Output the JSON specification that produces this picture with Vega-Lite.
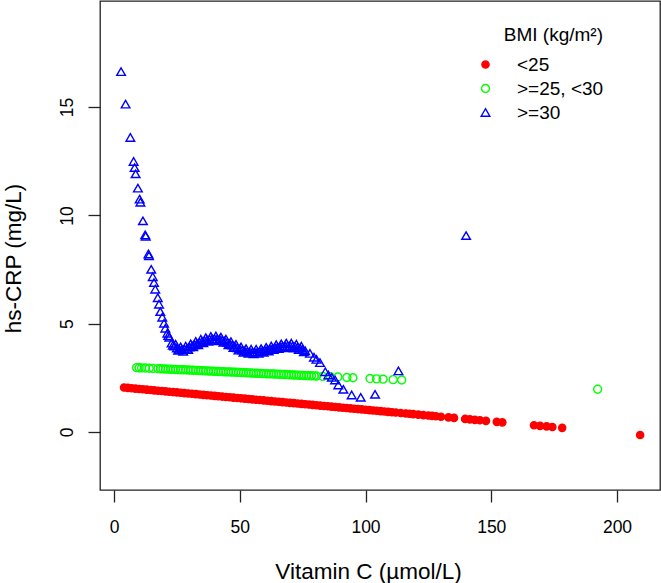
{
  "$schema": "https://vega.github.io/schema/vega-lite/v6.json",
  "width": 560,
  "height": 489,
  "autosize": {"type": "none"},
  "padding": {"left": 100, "top": 1, "right": 1, "bottom": 93},
  "background": "white",
  "config": {
    "font": "Liberation Sans",
    "view": {"stroke": "#222", "strokeWidth": 1.3}
  },
  "data": {
    "values": [
      {"bmi": "<25", "vitc": 4, "crp": 2.050}, {"bmi": "<25", "vitc": 5.5, "crp": 2.034}, {"bmi": "<25", "vitc": 7, "crp": 2.018},
      {"bmi": "<25", "vitc": 8.5, "crp": 2.002}, {"bmi": "<25", "vitc": 10, "crp": 1.986}, {"bmi": "<25", "vitc": 11.5, "crp": 1.970},
      {"bmi": "<25", "vitc": 13, "crp": 1.954}, {"bmi": "<25", "vitc": 14.5, "crp": 1.938}, {"bmi": "<25", "vitc": 16, "crp": 1.922},
      {"bmi": "<25", "vitc": 17.5, "crp": 1.906}, {"bmi": "<25", "vitc": 19, "crp": 1.890}, {"bmi": "<25", "vitc": 20.5, "crp": 1.874},
      {"bmi": "<25", "vitc": 22, "crp": 1.858}, {"bmi": "<25", "vitc": 23.5, "crp": 1.842}, {"bmi": "<25", "vitc": 25, "crp": 1.826},
      {"bmi": "<25", "vitc": 26.5, "crp": 1.810}, {"bmi": "<25", "vitc": 28, "crp": 1.794}, {"bmi": "<25", "vitc": 29.5, "crp": 1.778},
      {"bmi": "<25", "vitc": 31, "crp": 1.762}, {"bmi": "<25", "vitc": 32.5, "crp": 1.746}, {"bmi": "<25", "vitc": 34, "crp": 1.730},
      {"bmi": "<25", "vitc": 35.5, "crp": 1.714}, {"bmi": "<25", "vitc": 37, "crp": 1.698}, {"bmi": "<25", "vitc": 38.5, "crp": 1.682},
      {"bmi": "<25", "vitc": 40, "crp": 1.666}, {"bmi": "<25", "vitc": 41.5, "crp": 1.650}, {"bmi": "<25", "vitc": 43, "crp": 1.634},
      {"bmi": "<25", "vitc": 44.5, "crp": 1.617}, {"bmi": "<25", "vitc": 46, "crp": 1.601}, {"bmi": "<25", "vitc": 47.5, "crp": 1.585},
      {"bmi": "<25", "vitc": 49, "crp": 1.569}, {"bmi": "<25", "vitc": 50.5, "crp": 1.553}, {"bmi": "<25", "vitc": 52, "crp": 1.537},
      {"bmi": "<25", "vitc": 53.5, "crp": 1.521}, {"bmi": "<25", "vitc": 55, "crp": 1.505}, {"bmi": "<25", "vitc": 56.5, "crp": 1.489},
      {"bmi": "<25", "vitc": 58, "crp": 1.473}, {"bmi": "<25", "vitc": 59.5, "crp": 1.457}, {"bmi": "<25", "vitc": 61, "crp": 1.441},
      {"bmi": "<25", "vitc": 62.5, "crp": 1.425}, {"bmi": "<25", "vitc": 64, "crp": 1.409}, {"bmi": "<25", "vitc": 65.5, "crp": 1.393},
      {"bmi": "<25", "vitc": 67, "crp": 1.377}, {"bmi": "<25", "vitc": 68.5, "crp": 1.361}, {"bmi": "<25", "vitc": 70, "crp": 1.345},
      {"bmi": "<25", "vitc": 71.5, "crp": 1.329}, {"bmi": "<25", "vitc": 73, "crp": 1.313}, {"bmi": "<25", "vitc": 74.5, "crp": 1.297},
      {"bmi": "<25", "vitc": 76, "crp": 1.281}, {"bmi": "<25", "vitc": 77.5, "crp": 1.265}, {"bmi": "<25", "vitc": 79, "crp": 1.249},
      {"bmi": "<25", "vitc": 80.5, "crp": 1.233}, {"bmi": "<25", "vitc": 82, "crp": 1.217}, {"bmi": "<25", "vitc": 83.5, "crp": 1.201},
      {"bmi": "<25", "vitc": 85, "crp": 1.185}, {"bmi": "<25", "vitc": 86.5, "crp": 1.169}, {"bmi": "<25", "vitc": 88, "crp": 1.153},
      {"bmi": "<25", "vitc": 89.5, "crp": 1.137}, {"bmi": "<25", "vitc": 91, "crp": 1.121}, {"bmi": "<25", "vitc": 92.5, "crp": 1.105},
      {"bmi": "<25", "vitc": 94, "crp": 1.089}, {"bmi": "<25", "vitc": 95.5, "crp": 1.073}, {"bmi": "<25", "vitc": 97, "crp": 1.057},
      {"bmi": "<25", "vitc": 98.5, "crp": 1.041}, {"bmi": "<25", "vitc": 100, "crp": 1.025}, {"bmi": "<25", "vitc": 101.5, "crp": 1.009},
      {"bmi": "<25", "vitc": 103, "crp": 0.993}, {"bmi": "<25", "vitc": 104.5, "crp": 0.977}, {"bmi": "<25", "vitc": 106, "crp": 0.961},
      {"bmi": "<25", "vitc": 107.5, "crp": 0.945}, {"bmi": "<25", "vitc": 109, "crp": 0.929}, {"bmi": "<25", "vitc": 110.5, "crp": 0.913},
      {"bmi": "<25", "vitc": 112, "crp": 0.897}, {"bmi": "<25", "vitc": 114, "crp": 0.875}, {"bmi": "<25", "vitc": 116, "crp": 0.854},
      {"bmi": "<25", "vitc": 117.5, "crp": 0.838}, {"bmi": "<25", "vitc": 119, "crp": 0.822}, {"bmi": "<25", "vitc": 121, "crp": 0.800},
      {"bmi": "<25", "vitc": 123, "crp": 0.779}, {"bmi": "<25", "vitc": 125, "crp": 0.758}, {"bmi": "<25", "vitc": 126.5, "crp": 0.742},
      {"bmi": "<25", "vitc": 128, "crp": 0.726}, {"bmi": "<25", "vitc": 130, "crp": 0.704}, {"bmi": "<25", "vitc": 133, "crp": 0.672},
      {"bmi": "<25", "vitc": 135.2, "crp": 0.649}, {"bmi": "<25", "vitc": 139.6, "crp": 0.602}, {"bmi": "<25", "vitc": 141.5, "crp": 0.582},
      {"bmi": "<25", "vitc": 143.5, "crp": 0.560}, {"bmi": "<25", "vitc": 145.5, "crp": 0.539}, {"bmi": "<25", "vitc": 147.9, "crp": 0.513},
      {"bmi": "<25", "vitc": 152.2, "crp": 0.467}, {"bmi": "<25", "vitc": 154.4, "crp": 0.444}, {"bmi": "<25", "vitc": 167, "crp": 0.309},
      {"bmi": "<25", "vitc": 169.4, "crp": 0.283}, {"bmi": "<25", "vitc": 172, "crp": 0.256}, {"bmi": "<25", "vitc": 174.3, "crp": 0.231},
      {"bmi": "<25", "vitc": 178.2, "crp": 0.190}, {"bmi": "<25", "vitc": 209.2, "crp": -0.141},

      {"bmi": ">=25, <30", "vitc": 9, "crp": 2.970}, {"bmi": ">=25, <30", "vitc": 10, "crp": 2.965}, {"bmi": ">=25, <30", "vitc": 11, "crp": 2.959},
      {"bmi": ">=25, <30", "vitc": 12.5, "crp": 2.951}, {"bmi": ">=25, <30", "vitc": 14, "crp": 2.943}, {"bmi": ">=25, <30", "vitc": 15.5, "crp": 2.935},
      {"bmi": ">=25, <30", "vitc": 17.5, "crp": 2.924}, {"bmi": ">=25, <30", "vitc": 18.5, "crp": 2.918}, {"bmi": ">=25, <30", "vitc": 19.5, "crp": 2.913},
      {"bmi": ">=25, <30", "vitc": 20.5, "crp": 2.908}, {"bmi": ">=25, <30", "vitc": 21.5, "crp": 2.902}, {"bmi": ">=25, <30", "vitc": 22.5, "crp": 2.897},
      {"bmi": ">=25, <30", "vitc": 23.5, "crp": 2.891}, {"bmi": ">=25, <30", "vitc": 24.5, "crp": 2.886}, {"bmi": ">=25, <30", "vitc": 25.5, "crp": 2.880},
      {"bmi": ">=25, <30", "vitc": 26.5, "crp": 2.875}, {"bmi": ">=25, <30", "vitc": 27.5, "crp": 2.870}, {"bmi": ">=25, <30", "vitc": 28.5, "crp": 2.864},
      {"bmi": ">=25, <30", "vitc": 29.5, "crp": 2.859}, {"bmi": ">=25, <30", "vitc": 30.5, "crp": 2.853}, {"bmi": ">=25, <30", "vitc": 31.5, "crp": 2.848},
      {"bmi": ">=25, <30", "vitc": 32.5, "crp": 2.842}, {"bmi": ">=25, <30", "vitc": 33.5, "crp": 2.837}, {"bmi": ">=25, <30", "vitc": 34.5, "crp": 2.832},
      {"bmi": ">=25, <30", "vitc": 35.5, "crp": 2.826}, {"bmi": ">=25, <30", "vitc": 36.5, "crp": 2.821}, {"bmi": ">=25, <30", "vitc": 37.5, "crp": 2.815},
      {"bmi": ">=25, <30", "vitc": 38.5, "crp": 2.810}, {"bmi": ">=25, <30", "vitc": 39.5, "crp": 2.804}, {"bmi": ">=25, <30", "vitc": 40.5, "crp": 2.799},
      {"bmi": ">=25, <30", "vitc": 41.5, "crp": 2.794}, {"bmi": ">=25, <30", "vitc": 42.5, "crp": 2.788}, {"bmi": ">=25, <30", "vitc": 43.5, "crp": 2.783},
      {"bmi": ">=25, <30", "vitc": 44.5, "crp": 2.777}, {"bmi": ">=25, <30", "vitc": 45.5, "crp": 2.772}, {"bmi": ">=25, <30", "vitc": 46.5, "crp": 2.766},
      {"bmi": ">=25, <30", "vitc": 47.5, "crp": 2.761}, {"bmi": ">=25, <30", "vitc": 48.5, "crp": 2.756}, {"bmi": ">=25, <30", "vitc": 49.5, "crp": 2.750},
      {"bmi": ">=25, <30", "vitc": 50.5, "crp": 2.745}, {"bmi": ">=25, <30", "vitc": 51.5, "crp": 2.739}, {"bmi": ">=25, <30", "vitc": 52.5, "crp": 2.734},
      {"bmi": ">=25, <30", "vitc": 53.5, "crp": 2.728}, {"bmi": ">=25, <30", "vitc": 54.5, "crp": 2.723}, {"bmi": ">=25, <30", "vitc": 55.5, "crp": 2.718},
      {"bmi": ">=25, <30", "vitc": 56.5, "crp": 2.712}, {"bmi": ">=25, <30", "vitc": 57.5, "crp": 2.707}, {"bmi": ">=25, <30", "vitc": 58.5, "crp": 2.701},
      {"bmi": ">=25, <30", "vitc": 59.5, "crp": 2.696}, {"bmi": ">=25, <30", "vitc": 60.5, "crp": 2.690}, {"bmi": ">=25, <30", "vitc": 61.5, "crp": 2.685},
      {"bmi": ">=25, <30", "vitc": 62.5, "crp": 2.680}, {"bmi": ">=25, <30", "vitc": 63.5, "crp": 2.674}, {"bmi": ">=25, <30", "vitc": 64.5, "crp": 2.669},
      {"bmi": ">=25, <30", "vitc": 65.5, "crp": 2.663}, {"bmi": ">=25, <30", "vitc": 66.5, "crp": 2.658}, {"bmi": ">=25, <30", "vitc": 67.5, "crp": 2.652},
      {"bmi": ">=25, <30", "vitc": 68.5, "crp": 2.647}, {"bmi": ">=25, <30", "vitc": 69.5, "crp": 2.642}, {"bmi": ">=25, <30", "vitc": 70.5, "crp": 2.636},
      {"bmi": ">=25, <30", "vitc": 71.5, "crp": 2.631}, {"bmi": ">=25, <30", "vitc": 72.5, "crp": 2.625}, {"bmi": ">=25, <30", "vitc": 73.5, "crp": 2.620},
      {"bmi": ">=25, <30", "vitc": 74.5, "crp": 2.614}, {"bmi": ">=25, <30", "vitc": 75.5, "crp": 2.609}, {"bmi": ">=25, <30", "vitc": 76.5, "crp": 2.604},
      {"bmi": ">=25, <30", "vitc": 77.5, "crp": 2.598}, {"bmi": ">=25, <30", "vitc": 78.5, "crp": 2.593}, {"bmi": ">=25, <30", "vitc": 79.5, "crp": 2.587},
      {"bmi": ">=25, <30", "vitc": 80.5, "crp": 2.582}, {"bmi": ">=25, <30", "vitc": 83, "crp": 2.568}, {"bmi": ">=25, <30", "vitc": 86, "crp": 2.552},
      {"bmi": ">=25, <30", "vitc": 89, "crp": 2.536}, {"bmi": ">=25, <30", "vitc": 92.6, "crp": 2.516}, {"bmi": ">=25, <30", "vitc": 95, "crp": 2.503},
      {"bmi": ">=25, <30", "vitc": 101.8, "crp": 2.466}, {"bmi": ">=25, <30", "vitc": 104.4, "crp": 2.452}, {"bmi": ">=25, <30", "vitc": 107, "crp": 2.438},
      {"bmi": ">=25, <30", "vitc": 111, "crp": 2.416}, {"bmi": ">=25, <30", "vitc": 114.4, "crp": 2.398}, {"bmi": ">=25, <30", "vitc": 192.3, "crp": 1.975},

      {"bmi": ">=30", "vitc": 2.8, "crp": 16.64}, {"bmi": ">=30", "vitc": 4.6, "crp": 15.14}, {"bmi": ">=30", "vitc": 6.5, "crp": 13.6},
      {"bmi": ">=30", "vitc": 7.8, "crp": 12.49}, {"bmi": ">=30", "vitc": 8.2, "crp": 12.21}, {"bmi": ">=30", "vitc": 8.6, "crp": 11.92},
      {"bmi": ">=30", "vitc": 9.5, "crp": 11.26}, {"bmi": ">=30", "vitc": 10.2, "crp": 10.75}, {"bmi": ">=30", "vitc": 10.5, "crp": 10.61},
      {"bmi": ">=30", "vitc": 11.5, "crp": 9.75}, {"bmi": ">=30", "vitc": 12.4, "crp": 9.1}, {"bmi": ">=30", "vitc": 12.6, "crp": 9.04},
      {"bmi": ">=30", "vitc": 13.7, "crp": 8.22}, {"bmi": ">=30", "vitc": 13.9, "crp": 8.14}, {"bmi": ">=30", "vitc": 14.8, "crp": 7.51},
      {"bmi": ">=30", "vitc": 15.4, "crp": 7.17}, {"bmi": ">=30", "vitc": 15.9, "crp": 6.9}, {"bmi": ">=30", "vitc": 16.4, "crp": 6.59},
      {"bmi": ">=30", "vitc": 17.4, "crp": 6.2}, {"bmi": ">=30", "vitc": 17.9, "crp": 5.9}, {"bmi": ">=30", "vitc": 18.4, "crp": 5.56},
      {"bmi": ">=30", "vitc": 19.2, "crp": 5.3}, {"bmi": ">=30", "vitc": 19.9, "crp": 5.02}, {"bmi": ">=30", "vitc": 20.4, "crp": 4.79},
      {"bmi": ">=30", "vitc": 21.2, "crp": 4.56}, {"bmi": ">=30", "vitc": 21.6, "crp": 4.45}, {"bmi": ">=30", "vitc": 22, "crp": 4.37},
      {"bmi": ">=30", "vitc": 22.9, "crp": 4.1}, {"bmi": ">=30", "vitc": 23.4, "crp": 4.0},
      {"bmi": ">=30", "vitc": 24, "crp": 3.97}, {"bmi": ">=30", "vitc": 25, "crp": 3.88},
      {"bmi": ">=30", "vitc": 26, "crp": 3.82}, {"bmi": ">=30", "vitc": 27, "crp": 3.8}, {"bmi": ">=30", "vitc": 28, "crp": 3.82},
      {"bmi": ">=30", "vitc": 29, "crp": 3.86}, {"bmi": ">=30", "vitc": 30, "crp": 3.92}, {"bmi": ">=30", "vitc": 31, "crp": 3.98},
      {"bmi": ">=30", "vitc": 32, "crp": 4.03}, {"bmi": ">=30", "vitc": 33, "crp": 4.08}, {"bmi": ">=30", "vitc": 34, "crp": 4.13},
      {"bmi": ">=30", "vitc": 35, "crp": 4.18}, {"bmi": ">=30", "vitc": 36, "crp": 4.22}, {"bmi": ">=30", "vitc": 37, "crp": 4.25},
      {"bmi": ">=30", "vitc": 38, "crp": 4.28}, {"bmi": ">=30", "vitc": 39, "crp": 4.3}, {"bmi": ">=30", "vitc": 40, "crp": 4.31},
      {"bmi": ">=30", "vitc": 41, "crp": 4.3}, {"bmi": ">=30", "vitc": 42, "crp": 4.28}, {"bmi": ">=30", "vitc": 43, "crp": 4.24},
      {"bmi": ">=30", "vitc": 44, "crp": 4.2}, {"bmi": ">=30", "vitc": 45, "crp": 4.14}, {"bmi": ">=30", "vitc": 46, "crp": 4.08},
      {"bmi": ">=30", "vitc": 47, "crp": 4.01}, {"bmi": ">=30", "vitc": 48, "crp": 3.95}, {"bmi": ">=30", "vitc": 49, "crp": 3.89},
      {"bmi": ">=30", "vitc": 50, "crp": 3.83}, {"bmi": ">=30", "vitc": 51, "crp": 3.78}, {"bmi": ">=30", "vitc": 52, "crp": 3.74},
      {"bmi": ">=30", "vitc": 53, "crp": 3.71}, {"bmi": ">=30", "vitc": 54, "crp": 3.7}, {"bmi": ">=30", "vitc": 55, "crp": 3.69},
      {"bmi": ">=30", "vitc": 56, "crp": 3.69}, {"bmi": ">=30", "vitc": 57, "crp": 3.7}, {"bmi": ">=30", "vitc": 58, "crp": 3.72},
      {"bmi": ">=30", "vitc": 59, "crp": 3.74}, {"bmi": ">=30", "vitc": 60, "crp": 3.77}, {"bmi": ">=30", "vitc": 61, "crp": 3.8},
      {"bmi": ">=30", "vitc": 62, "crp": 3.83}, {"bmi": ">=30", "vitc": 63, "crp": 3.86}, {"bmi": ">=30", "vitc": 64, "crp": 3.89},
      {"bmi": ">=30", "vitc": 65, "crp": 3.92}, {"bmi": ">=30", "vitc": 66, "crp": 3.94}, {"bmi": ">=30", "vitc": 67, "crp": 3.96},
      {"bmi": ">=30", "vitc": 68, "crp": 3.97}, {"bmi": ">=30", "vitc": 69, "crp": 3.98}, {"bmi": ">=30", "vitc": 70, "crp": 3.98},
      {"bmi": ">=30", "vitc": 71, "crp": 3.97}, {"bmi": ">=30", "vitc": 72, "crp": 3.95}, {"bmi": ">=30", "vitc": 73, "crp": 3.91},
      {"bmi": ">=30", "vitc": 74, "crp": 3.87}, {"bmi": ">=30", "vitc": 75, "crp": 3.81}, {"bmi": ">=30", "vitc": 76, "crp": 3.75},
      {"bmi": ">=30", "vitc": 24.5, "crp": 4.05}, {"bmi": ">=30", "vitc": 25.5, "crp": 3.77}, {"bmi": ">=30", "vitc": 26.5, "crp": 3.93},
      {"bmi": ">=30", "vitc": 27.5, "crp": 3.73}, {"bmi": ">=30", "vitc": 28.5, "crp": 3.96}, {"bmi": ">=30", "vitc": 29.5, "crp": 3.81},
      {"bmi": ">=30", "vitc": 30.5, "crp": 4.07}, {"bmi": ">=30", "vitc": 31.5, "crp": 3.93}, {"bmi": ">=30", "vitc": 32.5, "crp": 4.18},
      {"bmi": ">=30", "vitc": 33.5, "crp": 4.03}, {"bmi": ">=30", "vitc": 34.5, "crp": 4.28}, {"bmi": ">=30", "vitc": 35.5, "crp": 4.12},
      {"bmi": ">=30", "vitc": 36.5, "crp": 4.36}, {"bmi": ">=30", "vitc": 37.5, "crp": 4.19}, {"bmi": ">=30", "vitc": 38.5, "crp": 4.41},
      {"bmi": ">=30", "vitc": 39.5, "crp": 4.23}, {"bmi": ">=30", "vitc": 40.5, "crp": 4.43}, {"bmi": ">=30", "vitc": 41.5, "crp": 4.21},
      {"bmi": ">=30", "vitc": 42.5, "crp": 4.38}, {"bmi": ">=30", "vitc": 43.5, "crp": 4.14}, {"bmi": ">=30", "vitc": 44.5, "crp": 4.29},
      {"bmi": ">=30", "vitc": 45.5, "crp": 4.03}, {"bmi": ">=30", "vitc": 46.5, "crp": 4.17}, {"bmi": ">=30", "vitc": 47.5, "crp": 3.90},
      {"bmi": ">=30", "vitc": 48.5, "crp": 4.04}, {"bmi": ">=30", "vitc": 49.5, "crp": 3.78}, {"bmi": ">=30", "vitc": 50.5, "crp": 3.93},
      {"bmi": ">=30", "vitc": 51.5, "crp": 3.68}, {"bmi": ">=30", "vitc": 52.5, "crp": 3.85}, {"bmi": ">=30", "vitc": 53.5, "crp": 3.63},
      {"bmi": ">=30", "vitc": 54.5, "crp": 3.82}, {"bmi": ">=30", "vitc": 55.5, "crp": 3.61}, {"bmi": ">=30", "vitc": 56.5, "crp": 3.82},
      {"bmi": ">=30", "vitc": 57.5, "crp": 3.63}, {"bmi": ">=30", "vitc": 58.5, "crp": 3.85}, {"bmi": ">=30", "vitc": 59.5, "crp": 3.68},
      {"bmi": ">=30", "vitc": 60.5, "crp": 3.91}, {"bmi": ">=30", "vitc": 61.5, "crp": 3.74}, {"bmi": ">=30", "vitc": 62.5, "crp": 3.97},
      {"bmi": ">=30", "vitc": 63.5, "crp": 3.80}, {"bmi": ">=30", "vitc": 64.5, "crp": 4.03}, {"bmi": ">=30", "vitc": 65.5, "crp": 3.85},
      {"bmi": ">=30", "vitc": 66.5, "crp": 4.07}, {"bmi": ">=30", "vitc": 67.5, "crp": 3.89}, {"bmi": ">=30", "vitc": 68.5, "crp": 4.10},
      {"bmi": ">=30", "vitc": 69.5, "crp": 3.90}, {"bmi": ">=30", "vitc": 70.5, "crp": 4.10}, {"bmi": ">=30", "vitc": 71.5, "crp": 3.88},
      {"bmi": ">=30", "vitc": 72.5, "crp": 4.05}, {"bmi": ">=30", "vitc": 73.5, "crp": 3.81}, {"bmi": ">=30", "vitc": 74.5, "crp": 3.96},
      {"bmi": ">=30", "vitc": 75.5, "crp": 3.70},
      {"bmi": ">=30", "vitc": 77.9, "crp": 3.63}, {"bmi": ">=30", "vitc": 79.5, "crp": 3.45}, {"bmi": ">=30", "vitc": 80.5, "crp": 3.35},
      {"bmi": ">=30", "vitc": 81.9, "crp": 3.2}, {"bmi": ">=30", "vitc": 84, "crp": 2.78}, {"bmi": ">=30", "vitc": 85.2, "crp": 2.63},
      {"bmi": ">=30", "vitc": 86.6, "crp": 2.52}, {"bmi": ">=30", "vitc": 87.9, "crp": 2.4}, {"bmi": ">=30", "vitc": 89.2, "crp": 2.17},
      {"bmi": ">=30", "vitc": 91.2, "crp": 1.97}, {"bmi": ">=30", "vitc": 94.5, "crp": 1.71}, {"bmi": ">=30", "vitc": 98.1, "crp": 1.6},
      {"bmi": ">=30", "vitc": 103.8, "crp": 1.74}, {"bmi": ">=30", "vitc": 113.1, "crp": 2.82}, {"bmi": ">=30", "vitc": 140, "crp": 9.07}
    ]
  },
  "mark": {"type": "point", "strokeWidth": 1.4, "opacity": 1},
  "encoding": {
    "x": {
      "field": "vitc",
      "type": "quantitative",
      "scale": {"domain": [-5.57, 217.1], "nice": false, "zero": false},
      "axis": {
        "values": [0, 50, 100, 150, 200],
        "grid": false,
        "domain": false,
        "tickSize": 12,
        "tickColor": "#222",
        "tickWidth": 1.3,
        "labelFontSize": 17.5,
        "labelColor": "black",
        "labelPadding": 16,
        "title": "Vitamin C (µmol/L)",
        "titleFontSize": 22.5,
        "titleFontWeight": "normal",
        "titleColor": "black",
        "titleX": 268,
        "titleY": 88,
        "titleBaseline": "alphabetic"
      }
    },
    "y": {
      "field": "crp",
      "type": "quantitative",
      "scale": {"domain": [-2.68, 19.9], "nice": false, "zero": false},
      "axis": {
        "values": [0, 5, 10, 15],
        "grid": false,
        "domain": false,
        "tickSize": 12,
        "tickColor": "#222",
        "tickWidth": 1.3,
        "labelFontSize": 17.5,
        "labelColor": "black",
        "labelAngle": -90,
        "labelAlign": "center",
        "labelBaseline": "alphabetic",
        "labelPadding": 16,
        "title": "hs-CRP (mg/L)",
        "titleFontSize": 22.5,
        "titleFontWeight": "normal",
        "titleColor": "black",
        "titleAngle": -90,
        "titleX": -80,
        "titleY": 257,
        "titleAlign": "center",
        "titleBaseline": "alphabetic"
      }
    },
    "shape": {
      "field": "bmi",
      "type": "nominal",
      "title": "BMI (kg/m²)",
      "scale": {"domain": ["<25", ">=25, <30", ">=30"], "range": ["circle", "circle", "triangle-up"]},
      "legend": {"orient": "none", "legendX": 376, "legendY": 25, "titleFontSize": 19, "titleFontWeight": "normal", "titleColor": "black", "titleAnchor": "end", "titlePadding": 10, "labelFontSize": 19, "labelColor": "black", "labelOffset": 22, "rowPadding": 4, "symbolStrokeWidth": 1.4, "symbolOpacity": 1}
    },
    "stroke": {
      "field": "bmi",
      "type": "nominal",
      "title": "BMI (kg/m²)",
      "scale": {"domain": ["<25", ">=25, <30", ">=30"], "range": ["#FF0000", "#00FF00", "#0000FF"]},
      "legend": {"orient": "none", "legendX": 376, "legendY": 25, "titleFontSize": 19, "titleFontWeight": "normal", "titleColor": "black", "titleAnchor": "end", "titlePadding": 10, "labelFontSize": 19, "labelColor": "black", "labelOffset": 22, "rowPadding": 4, "symbolStrokeWidth": 1.4, "symbolOpacity": 1}
    },
    "fill": {
      "field": "bmi",
      "type": "nominal",
      "title": "BMI (kg/m²)",
      "scale": {"domain": ["<25", ">=25, <30", ">=30"], "range": ["#FF0000", "transparent", "transparent"]},
      "legend": {"orient": "none", "legendX": 376, "legendY": 25, "titleFontSize": 19, "titleFontWeight": "normal", "titleColor": "black", "titleAnchor": "end", "titlePadding": 10, "labelFontSize": 19, "labelColor": "black", "labelOffset": 22, "rowPadding": 4, "symbolStrokeWidth": 1.4, "symbolOpacity": 1}
    },
    "size": {
      "field": "bmi",
      "type": "nominal",
      "title": "BMI (kg/m²)",
      "scale": {"domain": ["<25", ">=25, <30", ">=30"], "range": [52, 75, 150]},
      "legend": {"orient": "none", "legendX": 376, "legendY": 25, "titleFontSize": 19, "titleFontWeight": "normal", "titleColor": "black", "titleAnchor": "end", "titlePadding": 10, "labelFontSize": 19, "labelColor": "black", "labelOffset": 22, "rowPadding": 4, "symbolStrokeWidth": 1.4, "symbolOpacity": 1}
    }
  }
}
